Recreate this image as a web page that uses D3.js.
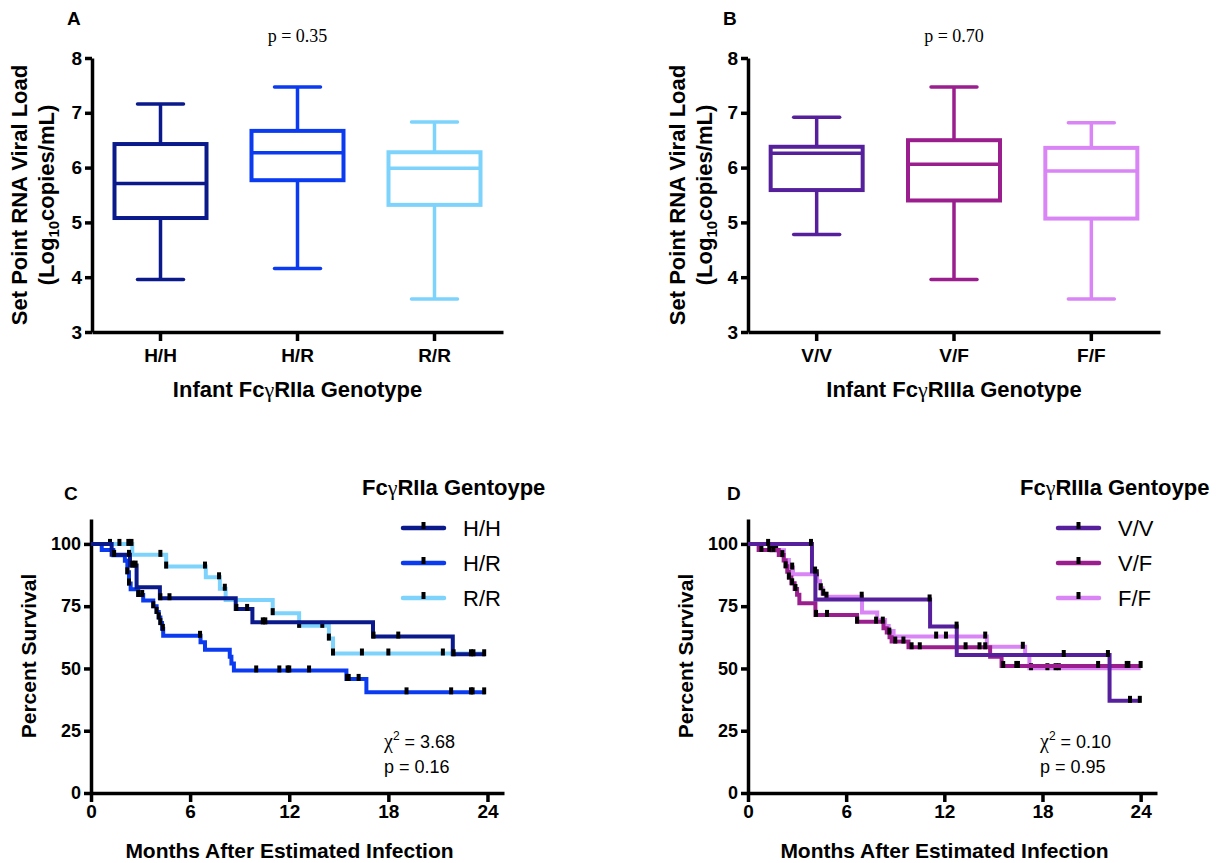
<!DOCTYPE html>
<html>
<head>
<meta charset="utf-8">
<script src="https://cdn.jsdelivr.net/npm/d3@7"></script>
<style>
  body { margin: 0; background: #fff; }
  text { font-family: Arial, "Liberation Sans", Helvetica, sans-serif; }
</style>
</head>
<body>
<svg id="fig" width="1228" height="863"></svg>
<script>
// ---- box plot data (set point viral load, log10 copies/mL) ----
const genoA = ["H/H", "H/R", "R/R"];
const colorsA = ["#0a1a8a", "#0b3bf0", "#7dd3fb"];
const minA = [3.96, 4.16, 3.60];
const q1A = [5.08, 5.77, 5.32];
const medA = [5.71, 6.27, 5.99];
const q3A = [6.43, 6.67, 6.28];
const maxA = [7.16, 7.47, 6.83];

const genoB = ["V/V", "V/F", "F/F"];
const colorsB = ["#56209c", "#9a1e8e", "#d985f5"];
const minB = [4.78, 3.96, 3.60];
const q1B = [5.59, 5.40, 5.07];
const medB = [6.26, 6.06, 5.94];
const q3B = [6.38, 6.50, 6.36];
const maxB = [6.92, 7.47, 6.82];

const boxTicks = [3, 4, 5, 6, 7, 8];

// ---- survival data: [month, percent after drop] ----
const hhSteps = [[1.25,95.6],[2.36,91.3],[2.76,82.6],[4.17,78.2],[8.76,73.9],[9.77,68.5],[17.07,62.8],[21.9,55.7]];
const hhCens = [1.4, 2.3, 2.5, 2.7, 4.2, 4.75, 8.8, 9.45, 10.4, 10.55, 17.1, 18.6, 21.95, 23.0, 23.15, 23.8];
const hrSteps = [[0.65,97.6],[1.35,95.4],[2.05,93.2],[2.2,88.6],[2.3,84.1],[2.4,81.8],[2.86,79.5],[3.16,77.3],[3.77,75.0],[3.97,72.7],[4.1,70.5],[4.2,68.2],[4.3,65.9],[4.37,63.1],[6.63,60.5],[6.9,57.5],[8.4,54.7],[8.5,52.0],[8.65,49.2],[15.46,45.8],[16.67,40.4]];
const hrCens = [2.2, 2.3, 2.86, 3.1, 3.77, 3.97, 4.1, 4.2, 4.35, 6.6, 10.0, 11.4, 11.9, 12.0, 13.2, 15.5, 15.6, 16.2, 19.1, 21.8, 23.0, 23.1, 23.8];
const rrSteps = [[2.5,95.6],[4.55,90.9],[6.95,86.6],[7.8,82.0],[8.15,77.5],[11.0,72.2],[12.6,67.1],[14.4,62.0],[14.65,56.0]];
const rrCens = [1.15, 1.72, 2.26, 2.45, 4.2, 4.55, 6.9, 7.75, 8.1, 11.0, 12.6, 14.0, 14.4, 14.65, 16.4, 18.0, 21.3];
const endC = [23.85, 23.85, 23.85];

const vvSteps = [[3.91,88.9],[4.12,77.7],[11.13,66.8],[12.76,55.4],[22.1,37.0]];
const vvCens = [1.23, 3.85, 4.1, 11.1, 12.75, 19.3, 22.0, 23.35, 23.95];
const vfSteps = [[0.65,97.6],[1.88,95.5],[2.18,93.3],[2.3,91.0],[2.4,88.8],[2.5,86.5],[2.65,84.2],[2.85,81.9],[3.0,79.6],[3.14,76.2],[4.12,71.5],[6.67,68.8],[8.28,66.1],[8.48,64.4],[8.65,62.5],[8.78,60.8],[9.81,58.5],[14.8,54.7],[15.5,51.0]];
const vfCens = [0.82, 1.3, 1.55, 2.1, 2.3, 2.5, 2.7, 2.9, 4.16, 4.83, 6.67, 7.83, 8.24, 8.64, 9.0, 9.5, 10.0, 10.5, 13.3, 14.15, 14.5, 15.6, 16.4, 16.5, 21.4, 23.15, 23.25, 24.0];
const ffSteps = [[1.36,97.5],[2.2,93.5],[2.5,90.5],[2.75,87.8],[4.22,85.0],[4.4,82.2],[4.55,80.0],[4.75,78.8],[6.97,72.5],[7.9,69.5],[8.38,67.0],[8.6,65.0],[8.9,62.8],[14.6,58.7],[16.94,55.4],[17.2,50.1]];
const ffCens = [1.45, 1.72, 2.7, 4.2, 4.45, 4.6, 4.8, 6.95, 11.5, 12.1, 14.5, 16.8, 17.3, 18.3, 18.8, 19.0];
const endD = [23.98, 24.05, 24.0];

const kmXTicks = [0, 6, 12, 18, 24];
const kmYTicks = [0, 25, 50, 75, 100];

const svg = d3.select("#fig");
const SERIF = "'Liberation Serif', 'Times New Roman', serif";

function styleAxis(g, size) {
  g.select(".domain").attr("stroke", "#000").attr("stroke-width", 3.5);
  g.selectAll(".tick line").attr("stroke", "#000").attr("stroke-width", 3.5);
  g.selectAll(".tick text")
    .attr("fill", "#000")
    .style("font-family", "Arial, 'Liberation Sans', sans-serif")
    .style("font-weight", "bold")
    .style("font-size", size + "px");
}

// "Fc" + gamma (symbol style) + rest
function gammaText(sel, before, after) {
  sel.append("tspan").text(before);
  sel.append("tspan").style("font-family", SERIF).style("font-weight", "normal").text("γ");
  sel.append("tspan").text(after);
}

function boxPanel(p) {
  const x = d3.scaleBand().domain(p.geno).range([p.x0, p.x1]);
  const y = d3.scaleLinear().domain([3, 8]).range([332, 58]);
  const g = svg.append("g");

  const yAx = g.append("g").attr("transform", `translate(${p.x0},0)`)
    .call(d3.axisLeft(y).tickValues(boxTicks).tickFormat(d3.format("d")).tickSize(7).tickSizeOuter(0).tickPadding(3));
  styleAxis(yAx, 19);

  const xAx = g.append("g").attr("transform", "translate(0,332)")
    .call(d3.axisBottom(x).tickSize(9).tickSizeOuter(0));
  styleAxis(xAx, 19);
  xAx.selectAll(".tick text").attr("y", 17).attr("dy", "0.71em");

  const bw = 92, cw = 46;
  p.geno.forEach((name, i) => {
    const cx = x(name) + x.bandwidth() / 2;
    const bg = g.append("g").attr("stroke", p.colors[i]).attr("stroke-width", 3.5).attr("fill", "none");
    bg.append("line").attr("x1", cx).attr("x2", cx).attr("y1", y(p.max[i])).attr("y2", y(p.q3[i]));
    bg.append("line").attr("x1", cx).attr("x2", cx).attr("y1", y(p.q1[i])).attr("y2", y(p.min[i]));
    bg.append("line").attr("x1", cx - cw / 2).attr("x2", cx + cw / 2).attr("y1", y(p.max[i])).attr("y2", y(p.max[i])).attr("stroke-linecap", "round");
    bg.append("line").attr("x1", cx - cw / 2).attr("x2", cx + cw / 2).attr("y1", y(p.min[i])).attr("y2", y(p.min[i])).attr("stroke-linecap", "round");
    bg.append("rect").attr("x", cx - bw / 2).attr("width", bw)
      .attr("y", y(p.q3[i])).attr("height", y(p.q1[i]) - y(p.q3[i])).attr("stroke-width", 4);
    bg.append("line").attr("x1", cx - bw / 2).attr("x2", cx + bw / 2).attr("y1", y(p.med[i])).attr("y2", y(p.med[i]));
  });

  // y title, two lines
  const cy = (58 + 332) / 2;
  g.append("text").attr("transform", `translate(${p.t1},${cy}) rotate(-90)`)
    .attr("text-anchor", "middle").style("font-weight", "bold").style("font-size", "22px")
    .text("Set Point RNA Viral Load");
  const t2 = g.append("text").attr("transform", `translate(${p.t2},${cy}) rotate(-90)`)
    .attr("text-anchor", "middle").style("font-weight", "bold").style("font-size", "22px");
  t2.append("tspan").text("(Log");
  t2.append("tspan").attr("dy", 5).style("font-size", "15px").text("10");
  t2.append("tspan").attr("dy", -5).text("copies/mL)");

  const xt = g.append("text").attr("x", (p.x0 + p.x1) / 2).attr("y", 397)
    .attr("text-anchor", "middle").style("font-weight", "bold").style("font-size", "22px");
  gammaText(xt, "Infant Fc", p.xTitle);

  g.append("text").attr("x", p.x0 + (p.x1 - p.x0) / 2).attr("y", 42).attr("text-anchor", "middle")
    .style("font-family", SERIF).style("font-size", "18px")
    .text(p.pText);
  g.append("text").attr("x", p.lx).attr("y", 25).style("font-weight", "bold").style("font-size", "19px").text(p.letter);
}

function kmPanel(p) {
  const x = d3.scaleLinear().domain([0, 25]).range([p.x0, p.x1]);
  const y = d3.scaleLinear().domain([0, 110]).range([793, 519]);
  const g = svg.append("g");

  const yAx = g.append("g").attr("transform", `translate(${p.x0},0)`)
    .call(d3.axisLeft(y).tickValues(kmYTicks).tickSize(7).tickSizeOuter(0).tickPadding(3));
  styleAxis(yAx, 18);
  const xAx = g.append("g").attr("transform", "translate(0,793)")
    .call(d3.axisBottom(x).tickValues(kmXTicks).tickSize(9).tickSizeOuter(0));
  styleAxis(xAx, 19);
  xAx.selectAll(".tick text").attr("y", 12).attr("dy", "0.71em");

  const line = d3.line().x(d => x(d[0])).y(d => y(d[1])).curve(d3.curveStepAfter);
  p.order.forEach(i => {
    const s = p.series[i];
    const pts = [[0, 100]].concat(s.steps);
    pts.push([p.ends[i], pts[pts.length - 1][1]]);
    g.append("path").datum(pts).attr("d", line).attr("fill", "none")
      .attr("stroke", p.colors[i]).attr("stroke-width", 4);
    const surv = t => {
      let v = 100;
      s.steps.forEach(d => { if (d[0] <= t) v = d[1]; });
      return v;
    };
    g.append("g").selectAll("rect").data(s.cens).join("rect")
      .attr("x", d => x(d) - 2).attr("y", d => y(surv(d)) - 5)
      .attr("width", 4).attr("height", 7).attr("fill", "#000");
  });

  // legend
  const lt = g.append("text").attr("x", p.legX).attr("y", 495)
    .style("font-weight", "bold").style("font-size", "22px");
  gammaText(lt, "Fc", p.legTitle);
  p.names.forEach((name, i) => {
    const ly = 528 + i * 35;
    g.append("line").attr("x1", p.legLine).attr("x2", p.legLine + 41).attr("y1", ly).attr("y2", ly)
      .attr("stroke", p.colors[i]).attr("stroke-width", 4.5).attr("stroke-linecap", "round");
    g.append("rect").attr("x", p.legLine + 18.5).attr("y", ly - 6).attr("width", 4).attr("height", 7).attr("fill", "#000");
    g.append("text").attr("x", p.legLine + 60).attr("y", ly + 8).style("font-size", "22px").text(name);
  });

  const chi = g.append("text").attr("x", p.statX).attr("y", 748).style("font-size", "18px");
  chi.append("tspan").style("font-family", SERIF).style("font-size", "20px").text("χ");
  chi.append("tspan").attr("dy", -8).style("font-size", "12px").text("2");
  chi.append("tspan").attr("dy", 8).text(" = " + p.chi);
  g.append("text").attr("x", p.statX).attr("y", 773).style("font-size", "18px").text("p = " + p.pv);

  g.append("text").attr("transform", `translate(${p.x0 - 55},656) rotate(-90)`)
    .attr("text-anchor", "middle").style("font-weight", "bold").style("font-size", "21px").text("Percent Survival");
  g.append("text").attr("x", (p.x0 + p.x1) / 2 - 8).attr("y", 858).attr("text-anchor", "middle")
    .style("font-weight", "bold").style("font-size", "21px").text("Months After Estimated Infection");
  g.append("text").attr("x", p.lx).attr("y", 500).style("font-weight", "bold").style("font-size", "19px").text(p.letter);
}

boxPanel({ geno: genoA, colors: colorsA, min: minA, q1: q1A, med: medA, q3: q3A, max: maxA,
  x0: 92, x1: 503, t1: 27, t2: 54, xTitle: "RIIa Genotype", pText: "p = 0.35", letter: "A", lx: 67 });
boxPanel({ geno: genoB, colors: colorsB, min: minB, q1: q1B, med: medB, q3: q3B, max: maxB,
  x0: 748, x1: 1160, t1: 685, t2: 712, xTitle: "RIIIa Genotype", pText: "p = 0.70", letter: "B", lx: 723 });

kmPanel({ names: genoA, colors: colorsA, order: [2, 1, 0], ends: endC,
  series: [{ steps: hhSteps, cens: hhCens }, { steps: hrSteps, cens: hrCens }, { steps: rrSteps, cens: rrCens }],
  x0: 91, x1: 504, legX: 362, legLine: 403, legTitle: "RIIa Gentoype", chi: "3.68", pv: "0.16", statX: 384,
  letter: "C", lx: 64 });
kmPanel({ names: genoB, colors: colorsB, order: [2, 1, 0], ends: endD,
  series: [{ steps: vvSteps, cens: vvCens }, { steps: vfSteps, cens: vfCens }, { steps: ffSteps, cens: ffCens }],
  x0: 748, x1: 1157, legX: 1020, legLine: 1058, legTitle: "RIIIa Gentoype", chi: "0.10", pv: "0.95", statX: 1040,
  letter: "D", lx: 727 });
</script>
</body>
</html>
